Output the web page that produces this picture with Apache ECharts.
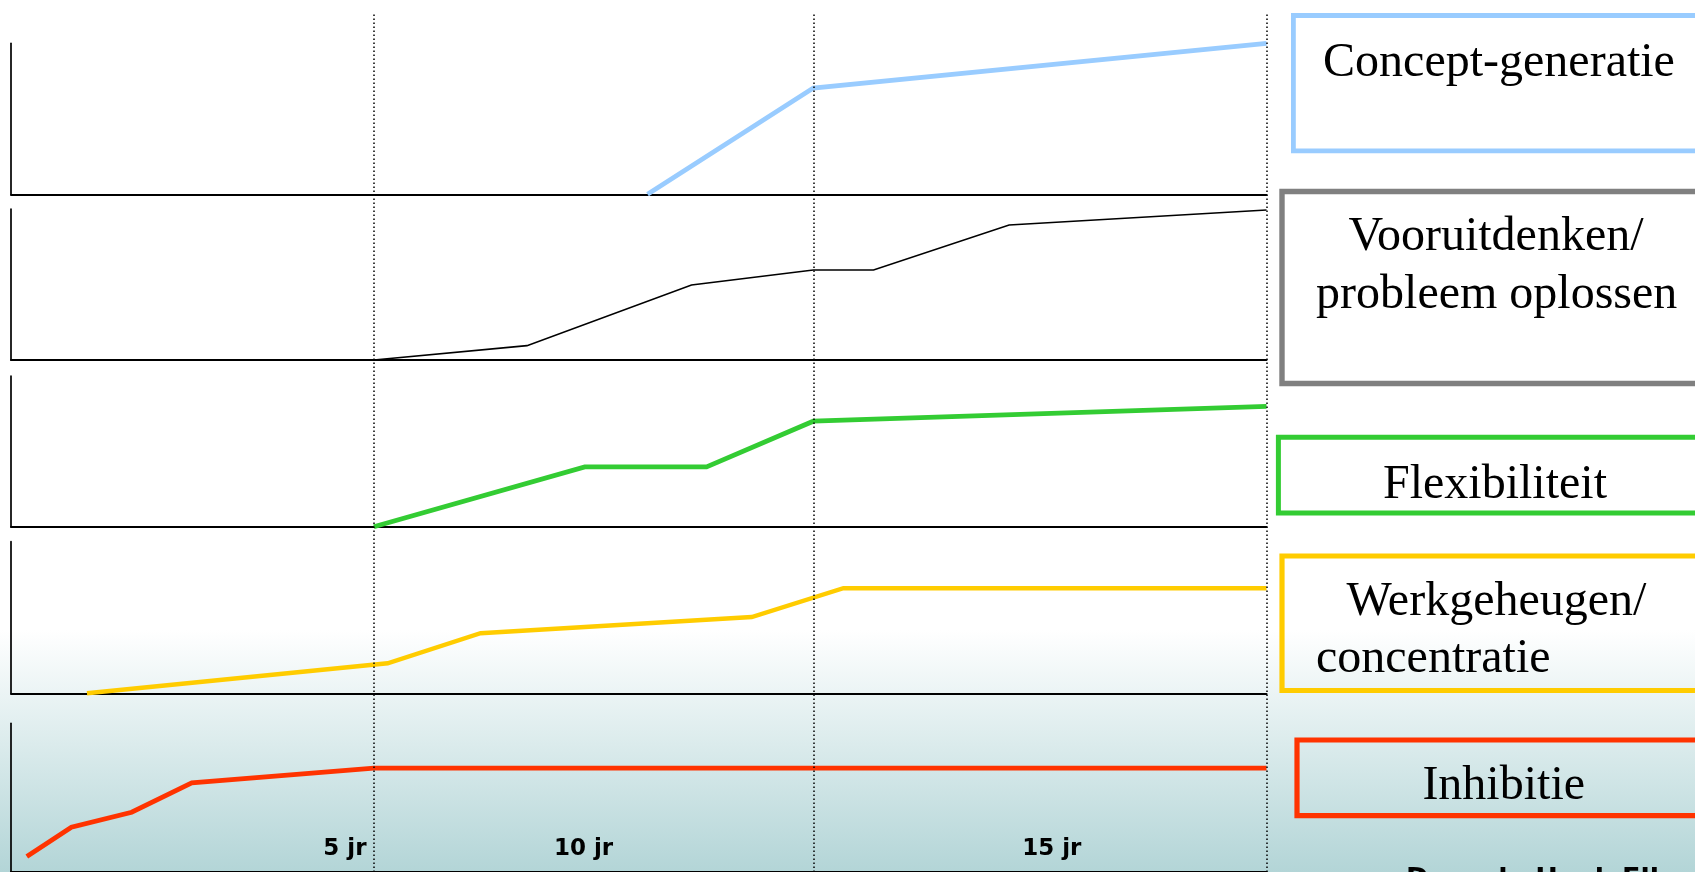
<!DOCTYPE html>
<html><head><meta charset="utf-8">
<script src="https://cdn.jsdelivr.net/npm/echarts@6/dist/echarts.min.js"></script>
<style>
html,body{margin:0;padding:0;overflow:hidden;}
#c{width:1695px;height:872px;background:linear-gradient(to bottom,#ffffff 0px,#ffffff 630px,#b3d5d7 872px);}
</style></head><body><div id="c"></div>
<script>
// ---- data (schematic scale: x 0..100 across the plot, y 0..100 per panel) ----
const panelNames = ['Concept-generatie', 'Vooruitdenken/', 'probleem oplossen', 'Flexibiliteit', 'Werkgeheugen/', 'concentratie', 'Inhibitie'];
const conceptX = [50.7, 63.9, 100];
const conceptY = [0, 70.4, 100];
const planX = [28.9, 41.1, 54.2, 63.9, 68.7, 79.5, 100];
const planY = [0, 9.5, 49.7, 59.6, 59.6, 89.4, 99.3];
const flexX = [28.9, 45.7, 55.4, 63.9, 100];
const flexY = [0, 39.7, 39.7, 70, 79.9];
const memX = [6.05, 30.0, 37.4, 59.0, 66.3, 100];
const memY = [0, 19.8, 39.6, 50.3, 69.3, 69.3];
const inhX = [1.26, 4.81, 9.61, 14.4, 28.9, 100];
const inhY = [10.4, 30.1, 40.2, 60, 69.9, 69.9];
const ageTickPos = [26.6, 45.6, 82.9];
const ageTickLabels = ['5 jr', '10 jr', '15 jr'];
const milestoneX = [28.9, 63.9, 100];
const sourceText = 'Door de Hoek Ellen';

// ---- layout ----
const L = 11, R = 1695 - 1266.5;
const panelTops = [43.3, 209, 376, 541.7, 723.3];
const panelH = [151, 151, 150.7, 151.6, 151.6];
const colors = ['#99ccff', '#000000', '#33cc33', '#ffcc00', '#ff3300'];
const widths = [4.8, 1.6, 4.8, 4.4, 4.8];
const seriesX = [conceptX, planX, flexX, memX, inhX];
const seriesY = [conceptY, planY, flexY, memY, inhY];

const grids = [{left: L, right: R, top: 13, bottom: 0}];
const xAxes = [{gridIndex: 0, type: 'value', min: 0, max: 100, show: false}];
const yAxes = [{gridIndex: 0, type: 'value', min: 0, max: 100, show: false}];
const series = [{
  type: 'line', xAxisIndex: 0, yAxisIndex: 0, data: [], silent: true,
  markLine: {
    silent: true, symbol: ['none', 'none'], label: {show: false},
    lineStyle: {color: '#000', type: [1.6, 2.4], width: 1.5},
    data: milestoneX.map(v => ({xAxis: v}))
  }
}];

for (let i = 0; i < 5; i++) {
  grids.push({left: L, right: R, top: panelTops[i], height: panelH[i]});
  const xa = {
    gridIndex: i + 1, type: 'value', min: 0, max: 100,
    axisLine: {show: true, onZero: false, lineStyle: {color: '#000', width: 2}},
    axisTick: {show: false}, splitLine: {show: false}, axisLabel: {show: false}
  };
  if (i === 4) {
    xa.axisLabel = {
      show: true, inside: true, margin: 23, verticalAlign: 'middle',
      customValues: ageTickPos,
      formatter: function (v) {
        const k = ageTickPos.findIndex(p => Math.abs(p - v) < 0.01);
        return k >= 0 ? ageTickLabels[k] : '';
      },
      color: '#000', fontFamily: 'DejaVu Sans', fontWeight: 'bold', fontSize: 23
    };
  }
  xAxes.push(xa);
  yAxes.push({
    gridIndex: i + 1, type: 'value', min: 0, max: 100,
    axisLine: {show: true, onZero: false, lineStyle: {color: '#000', width: 1.7}},
    axisTick: {show: false}, splitLine: {show: false}, axisLabel: {show: false}
  });
  series.push({
    type: 'line', xAxisIndex: i + 1, yAxisIndex: i + 1, clip: false,
    showSymbol: false, symbol: 'none', silent: true,
    lineStyle: {color: colors[i], width: widths[i], join: 'miter'},
    data: seriesX[i].map((x, j) => [x, seriesY[i][j]])
  });
}

const serif = 'Liberation Serif';
function boxText(t, x, yBase, align) {
  return {type: 'text', style: {text: t, x: x, y: yBase - 11, align: align || 'center', verticalAlign: 'middle',
    font: '48px "' + serif + '"', fill: '#000'}};
}
const graphic = [
  {type: 'rect', shape: {x: 1293.4, y: 15.5, width: 440, height: 135.3}, style: {fill: 'none', stroke: colors[0], lineWidth: 4.8}},
  {type: 'rect', shape: {x: 1282, y: 191.5, width: 440, height: 192}, style: {fill: 'none', stroke: '#808080', lineWidth: 5.4}},
  {type: 'rect', shape: {x: 1278.4, y: 437.3, width: 440, height: 75.7}, style: {fill: 'none', stroke: colors[2], lineWidth: 5}},
  {type: 'rect', shape: {x: 1282, y: 556, width: 440, height: 134.5}, style: {fill: 'none', stroke: colors[3], lineWidth: 5.2}},
  {type: 'rect', shape: {x: 1297, y: 740, width: 440, height: 75.6}, style: {fill: 'none', stroke: colors[4], lineWidth: 5.2}},
  boxText(panelNames[0], 1499, 74),
  boxText(panelNames[1], 1496, 248),
  boxText(panelNames[2], 1496.7, 306.7),
  boxText(panelNames[3], 1495, 496.7),
  boxText(panelNames[4], 1346.4, 613.3, 'left'),
  boxText(panelNames[5], 1316, 670.7, 'left'),
  boxText(panelNames[6], 1503.7, 797.3),
  {type: 'text', style: {text: sourceText, x: 1406, y: 880, align: 'left', verticalAlign: 'middle',
    font: 'bold 27px "DejaVu Sans"', fill: '#000'}}
];

const chart = echarts.init(document.getElementById('c'), null, {renderer: 'canvas'});
chart.setOption({
  animation: false,
  backgroundColor: 'transparent',
  grid: grids, xAxis: xAxes, yAxis: yAxes, series: series, graphic: graphic
});
</script></body></html>
